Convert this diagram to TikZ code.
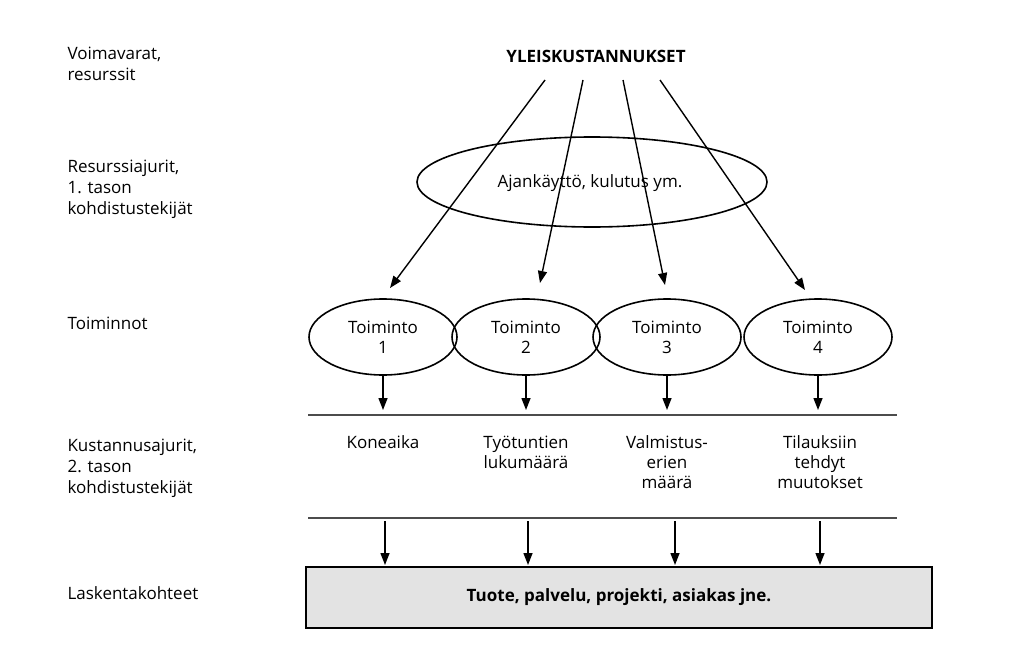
\documentclass[tikz,border=0pt]{standalone}
\usepackage{fontspec}
\setmainfont{Open Sans}
\usetikzlibrary{arrows.meta}
\begin{document}
\begin{tikzpicture}[x=1pt,y=-1pt,
  lab/.style={align=left,anchor=north west,font=\fontsize{17}{21}\selectfont},
  txt/.style={align=center,font=\fontsize{17}{20}\selectfont},
  arr/.style={-{Triangle[length=12pt,width=9pt]},line width=1.4pt},
  ell/.style={draw,line width=1.2pt,ellipse}]
\useasboundingbox (0,0) rectangle (1011,666);
\node[lab] (l1) at (64,43) {Voimavarat,\\resurssit};
\node[lab] (l2) at (64,156) {Resurssiajurit,\\1. tason\\kohdistustekijät};
\node[lab] (l3) at (64,313) {Toiminnot};
\node[lab] (l4) at (64,435) {Kustannusajurit,\\2. tason\\kohdistustekijät};
\node[lab] (l5) at (64,583) {Laskentakohteet};
\node[txt,font=\bfseries\fontsize{17}{20}\selectfont] (top) at (596,56) {YLEISKUSTANNUKSET};
\draw[line width=1.6pt] (592,182) ellipse (175 and 45);
\node[txt] (aj) at (590,183) {Ajankäyttö, kulutus ym.};
\foreach \i/\x in {1/383,2/526,3/667,4/818}{
  \draw[line width=1.6pt] (\x,337) ellipse (74 and 38);
  \node[txt] (t\i) at (\x,337) {Toiminto\\\i};
  \coordinate (b\i) at (\x,375);
  \coordinate (e\i) at (\x,410);
  \draw[arr] (b\i) -- (e\i);
}
\coordinate (s1) at (545,80); \coordinate (d1) at (390,288);
\coordinate (s2) at (583,80); \coordinate (d2) at (540,283);
\coordinate (s3) at (623,80); \coordinate (d3) at (665,285);
\coordinate (s4) at (660,80); \coordinate (d4) at (805,290);
\foreach \i in {1,...,4}{\draw[arr] (s\i) -- (d\i);}
\coordinate (h1a) at (308,415); \coordinate (h1b) at (897,415);
\coordinate (h2a) at (308,518); \coordinate (h2b) at (897,518);
\draw[line width=2.6pt,gray!60!black] (h1a) -- (h1b);
\draw[line width=2.6pt,gray!60!black] (h2a) -- (h2b);
\node[txt,anchor=north] (k1) at (383,432) {Koneaika};
\node[txt,anchor=north] (k2) at (526,432) {Työtuntien\\lukumäärä};
\node[txt,anchor=north] (k3) at (667,432) {Valmistus-\\erien\\määrä};
\node[txt,anchor=north] (k4) at (820,432) {Tilauksiin\\tehdyt\\muutokset};
\foreach \i/\x in {1/385,2/528,3/675,4/820}{
  \coordinate (u\i) at (\x,521); \coordinate (v\i) at (\x,565);
  \draw[arr] (u\i) -- (v\i);}
\node[draw,line width=1.6pt,fill=gray!22,minimum width=626pt,minimum height=61pt,
  font=\bfseries\fontsize{17}{20}\selectfont] (box) at (619,597.5) {Tuote, palvelu, projekti, asiakas jne.};
\end{tikzpicture}
\end{document}
